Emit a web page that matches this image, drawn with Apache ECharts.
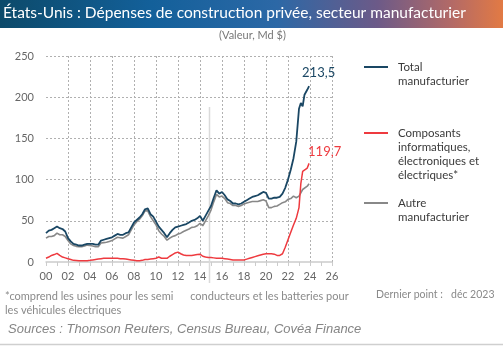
<!DOCTYPE html>
<html>
<head>
<meta charset="utf-8">
<script src="https://cdn.jsdelivr.net/npm/echarts@6/dist/echarts.min.js"></script>
<style>
html,body{margin:0;padding:0;background:#fff;}
#chart{width:503px;height:346px;}
</style>
</head>
<body>
<div id="chart"></div>
<script>
// Dates (YY-MM), quarterly then denser in 2023
const dates = [
 '00-01','00-04','00-07','00-10','01-01','01-04','01-07','01-10',
 '02-01','02-04','02-07','02-10','03-01','03-04','03-07','03-10',
 '04-01','04-04','04-07','04-10','05-01','05-04','05-07','05-10',
 '06-01','06-04','06-07','06-10','07-01','07-04','07-07','07-10',
 '08-01','08-04','08-07','08-10','09-01','09-04','09-07','09-10',
 '10-01','10-04','10-07','10-10','11-01','11-04','11-07','11-10',
 '12-01','12-04','12-07','12-10','13-01','13-04','13-07','13-10',
 '14-01','14-04','14-07','14-10','15-01','15-04','15-07','15-10',
 '16-01','16-04','16-07','16-10','17-01','17-04','17-07','17-10',
 '18-01','18-04','18-07','18-10','19-01','19-04','19-07','19-10',
 '20-01','20-04','20-07','20-10','21-01','21-04','21-07','21-10',
 '22-01','22-04','22-07','22-10','23-01','23-03','23-05','23-07','23-10','23-12'
];
const totalManufacturier = [
 35,38,39,41, 43,41,40,37,
 29,25,22,21, 20,20,21,22,
 22,22,21,21, 26,27,28,29,
 30,32,34,33, 33,35,36,42,
 48,51,54,58, 64,65,58,55,
 49,43,39,35, 30,35,39,42,
 43,44,45,46, 48,50,51,53,
 56,50,56,62, 68,78,87,83,
 85,81,76,74, 71,71,70,71,
 73,75,77,79, 80,81,83,85,
 84,77,77,78, 78,79,83,90,
 100,112,126,146, 186,193,189,203,209,213.5
];
const composants = [
 4.5,6,8,9, 10.5,8,6,5,
 4,3,2,1.8, 1.6,1.5,1.5,1.6,
 2,2.5,3,3.5, 4,4.5,4.5,4.5,
 4.5,4.5,4.5,4, 4,3.5,3,2.5,
 2,1.5,1.5,2, 3,3,3.5,4,
 4.5,6,4.5,4.5, 4.5,7,9,11,
 12,10,8.5,8, 8,8,8.5,9,
 9.5,7,6,5.5, 5.5,5,4.5,4.5,
 4.5,4,3.5,3, 2.5,2.5,2.5,2.5,
 2.5,3.5,4.5,5.5, 6.5,7.5,8.5,9.5,
 10,10,10,9.5, 8,8,10,18,
 27,36,45,53, 66,95,110,109,114,119.7
];
const autreManufacturier = [
 29,31,31,32, 35,33,33,31,
 26,22,20,19, 18.5,18.5,19.5,20.5,
 20,19.5,18.5,18.5, 23,23.5,24,25,
 26,28,30,29.5, 29,31,33,39,
 45,49,52,56, 62,62,55,50,
 45,38,34,31, 26.5,29,31,32,
 34,35,37,38.5, 40,42,42.5,44,
 47,44,50,56, 63,73,82,79,
 80,77,72,71, 68.5,68.5,67.5,68.5,
 70.5,71.5,72.5,73.5, 73.5,73.5,74.5,75.5,
 74,66,66,67.5, 68,70,72,73,
 76,77,80,78, 80,84,88,88,92,95
];
const xTickLabels = ['00','02','04','06','08','10','12','14','16','18','20','22','24','26'];
const yTicks = [0,50,100,150,200,250];

const seriesNames = ['Total manufacturier','Composants informatiques, électroniques et électriques*','Autre manufacturier'];
const colors = {total:'#1a4764', comp:'#ee3a3f', autre:'#888888'};

function toX(d){ const p = d.split('-').map(Number); return p[0] + (p[1]-1)/12; }
function pairs(vals){ return dates.map((d,i)=>[toX(d), vals[i]]); }
const fmt = v => String(v).replace('.', ',');
const FONT = 'Lato';

const chart = echarts.init(document.getElementById('chart'), null, {renderer:'canvas'});
const legendBase = {
  orient:'vertical', padding:0, itemWidth:24, itemHeight:2, icon:'rect', selectedMode:false,
  textStyle:{fontFamily:FONT, fontSize:11.5, lineHeight:14, color:'#3a3a3a', padding:[0,0,0,5]}
};
chart.setOption({
  animation:false,
  backgroundColor:'#fff',
  graphic:[
    {type:'rect', z:-10, shape:{x:0,y:0,width:503,height:28},
     style:{fill:new echarts.graphic.LinearGradient(0,0,1,0,[
       {offset:0,color:'#0c4a6a'},{offset:0.3,color:'#13609a'},{offset:0.55,color:'#2c68a6'},
       {offset:0.75,color:'#6c5a88'},{offset:0.9,color:'#b46a66'},{offset:1,color:'#e27a44'}])}},
    {type:'line', z:1, shape:{x1:209.5,y1:107,x2:209.5,y2:283}, style:{stroke:'#dadada', lineWidth:1.5}},
    {type:'line', z:1, shape:{x1:0,y1:344.5,x2:503,y2:344.5}, style:{stroke:'#cfcfcf', lineWidth:1.5}}
  ],
  title:[
    {text:'États-Unis : Dépenses de construction privée, secteur manufacturier', left:3, top:5, padding:0,
     textStyle:{color:'#fff', fontSize:15.5, fontWeight:'normal', fontFamily:FONT}},
    {text:'(Valeur, Md $)', left:219, top:30, padding:0,
     textStyle:{color:'#777', fontSize:11, fontWeight:'normal', fontFamily:FONT}},
    {text:'*comprend les usines pour les semi      conducteurs et les batteries pour\nles véhicules électriques', left:5, top:289, padding:0,
     textStyle:{color:'#8a8a8a', fontSize:11, lineHeight:14, fontWeight:'normal', fontFamily:FONT}},
    {text:'Dernier point :   déc 2023', left:376, top:289, padding:0,
     textStyle:{color:'#8a8a8a', fontSize:10.5, fontWeight:'normal', fontFamily:FONT}},
    {text:'Sources : Thomson Reuters, Census Bureau, Covéa Finance', left:8, top:323, padding:0,
     textStyle:{color:'#858585', fontSize:13, fontStyle:'italic', fontWeight:'normal', fontFamily:'Liberation Sans'}}
  ],
  legend:[
    Object.assign({}, legendBase, {data:[seriesNames[0]], left:364, top:46, formatter:()=>' \nTotal\nmanufacturier'}),
    Object.assign({}, legendBase, {data:[seriesNames[1]], left:364, top:84, formatter:()=>' \n \n \nComposants\ninformatiques,\nélectroniques et\nélectriques*'}),
    Object.assign({}, legendBase, {data:[seriesNames[2]], left:364, top:182, formatter:()=>' \nAutre\nmanufacturier'})
  ],
  grid:{left:46, right:171, top:56, bottom:84, containLabel:false},
  xAxis:{
    type:'value', min:0, max:26, interval:2,
    axisLine:{show:true, lineStyle:{color:'#cccccc', width:1.5}},
    axisTick:{show:true, length:4, lineStyle:{color:'#cccccc'}},
    minorTick:{show:true, splitNumber:2, length:4, lineStyle:{color:'#cccccc'}},
    axisLabel:{color:'#666', fontSize:11, fontFamily:FONT, margin:9,
      formatter:v=>xTickLabels[Math.round(v/2)]},
    splitLine:{show:true, showMinLine:false, lineStyle:{color:'#b0b0b0', type:[2,2], width:1}}
  },
  yAxis:{
    type:'value', min:0, max:250, interval:50,
    axisLine:{show:false}, axisTick:{show:false},
    axisLabel:{color:'#666', fontSize:11, fontFamily:FONT, margin:12,
      formatter:v=>String(yTicks[Math.round(v/50)])},
    splitLine:{show:true, showMinLine:false, lineStyle:{color:'#b0b0b0', type:[2,2], width:1}}
  },
  series:[
    {name:seriesNames[2], type:'line', data:pairs(autreManufacturier), showSymbol:false, symbol:'none',
     color:colors.autre, lineStyle:{width:1.6, color:colors.autre}, z:2},
    {name:seriesNames[1], type:'line', data:pairs(composants), showSymbol:false, symbol:'none',
     color:colors.comp, lineStyle:{width:1.5, color:colors.comp}, z:3,
     endLabel:{show:true, formatter:p=>fmt(p.value[1]), color:'#ee3a3f', fontSize:13, fontFamily:FONT, offset:[-9,-12]}},
    {name:seriesNames[0], type:'line', data:pairs(totalManufacturier), showSymbol:false, symbol:'none',
     color:colors.total, lineStyle:{width:1.8, color:colors.total}, z:4,
     endLabel:{show:true, formatter:p=>fmt(p.value[1]), color:'#1a4764', fontSize:13, fontFamily:FONT, offset:[-15,-13]}}
  ]
});
</script>
</body>
</html>
